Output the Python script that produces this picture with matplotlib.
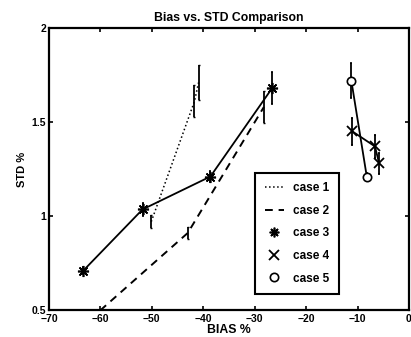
import matplotlib
matplotlib.use("Agg")
import matplotlib.pyplot as plt
from matplotlib.lines import Line2D
from matplotlib.ticker import FormatStrFormatter

plt.rcParams["font.family"] = ["Liberation Sans", "DejaVu Sans"]
plt.rcParams["font.weight"] = "bold"

# ---- data (BIAS %, STD %, error half-height)
case1_x = [-50.1, -41.7, -40.9]
case1_y = [0.97, 1.61, 1.71]
case1_e = [0.035, 0.085, 0.095]

case2_x = [-62.0, -43.0, -28.2]
case2_y = [0.45, 0.91, 1.58]
case2_e = [0.0, 0.03, 0.085]

case3_x = [-63.3, -51.8, -38.6, -26.6]
case3_y = [0.71, 1.035, 1.21, 1.68]
case3_e = [0.02, 0.035, 0.03, 0.085]

case4_x = [-11.0, -6.6, -5.8]
case4_y = [1.45, 1.37, 1.28]
case4_e = [0.07, 0.06, 0.055]

case5_x = [-11.2, -8.2]
case5_y = [1.72, 1.21]
case5_e = [0.095, 0.02]

labels = ["case 1", "case 2", "case 3", "case 4", "case 5"]
x_ticks = [-70, -60, -50, -40, -30, -20, -10, 0]
y_ticks = [0.5, 1, 1.5, 2]

fig = plt.figure(figsize=(4.11, 3.37), dpi=100)
ax = fig.add_axes([0.119, 0.080, 0.876, 0.837])

star = (8, 2, 0)
ekw = dict(color="black", ecolor="black", elinewidth=1.3, capsize=1)
ax.errorbar(case1_x, case1_y, yerr=case1_e, ls=":", lw=1.1, **ekw)
ax.errorbar(case2_x, case2_y, yerr=case2_e, ls=(0, (4, 3)), lw=1.4, **ekw)
ax.errorbar(case3_x, case3_y, yerr=case3_e, ls="-", lw=1.3, marker=star,
            ms=8, mew=1.2, **ekw)
ax.errorbar(case4_x, case4_y, yerr=case4_e, ls="-", lw=1.3, marker="x",
            ms=7, mew=1.3, **ekw)
ax.errorbar(case5_x, case5_y, yerr=case5_e, ls="-", lw=1.3, marker="o",
            ms=6, mew=1.2, mfc="white", **ekw)

ax.set_xlim(-70, 0)
ax.set_ylim(0.5, 2)
ax.set_xticks(x_ticks)
ax.set_yticks(y_ticks)
ax.yaxis.set_major_formatter(FormatStrFormatter("%g"))
ax.tick_params(direction="in", top=True, right=True, length=3, width=1.2,
               labelsize=7.5, pad=2)
ax.tick_params(axis="x", pad=3)
for s in ax.spines.values():
    s.set_linewidth(1.6)

ax.set_title("Bias vs. STD Comparison", fontsize=8.8, fontweight="bold", pad=5)
ax.set_xlabel("BIAS %", fontsize=8.8, fontweight="bold", labelpad=0)
ax.set_ylabel("STD %", fontsize=8, fontweight="bold", labelpad=3)

handles = [
    Line2D([], [], color="black", ls=":", lw=1.1),
    Line2D([], [], color="black", ls=(0, (4, 3)), lw=1.4),
    Line2D([], [], color="black", ls="none", marker=star, ms=7, mew=1.2),
    Line2D([], [], color="black", ls="none", marker="x", ms=7, mew=1.3),
    Line2D([], [], color="black", ls="none", marker="o", ms=6, mew=1.2,
           mfc="white"),
]
leg = ax.legend(handles, labels, loc="lower left", bbox_to_anchor=(0.573, 0.057),
                borderaxespad=0, fancybox=False, framealpha=1, edgecolor="black",
                fontsize=8.5, handlelength=1.6, handletextpad=0.8,
                labelspacing=0.9, borderpad=0.8)
leg.get_frame().set_linewidth(1.5)

fig.savefig("out.png", dpi=100)
